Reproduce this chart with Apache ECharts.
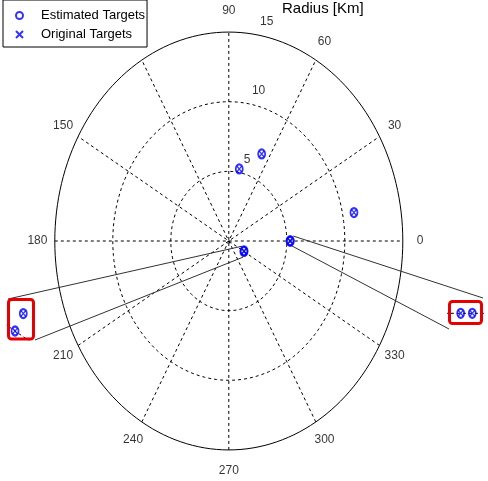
<!DOCTYPE html>
<html>
<head>
<meta charset="utf-8">
<script src="https://cdn.jsdelivr.net/npm/echarts@6/dist/echarts.min.js"></script>
<style>
  html, body { margin: 0; padding: 0; background: #fff; }
  #main { width: 488px; height: 481px; }
</style>
</head>
<body>
<div id="main"></div>
<script>
// targets in polar form: radius [km], angle [deg]
var estRadius = [5.25, 6.86, 10.98, 5.27, 5.31, 1.50, 1.5003];
var estAngle = [80.1, 65.6, 10.7, 0, 0, 330, 331.54];
var orgRadius = [5.25, 6.86, 10.98, 5.27, 5.31, 1.50, 1.5003];
var orgAngle = [80.1, 65.6, 10.7, 0, 0, 330, 331.54];

// polar grid
var ringRadius = [5, 10, 15];
var spokeAngle = [0, 30, 60, 90, 120, 150];
var angleTicks = [0, 30, 60, 90, 120, 150, 180, 210, 240, 270, 300, 330];
var radiusTicks = [5, 10, 15];

// zoom windows of the two insets [xmin, xmax, ymin, ymax] in km
var leftZoom = [1.2797, 1.3472, -0.7681, -0.6837];
var rightZoom = [5.2262, 5.3469, -0.0336, 0.0382];

var rMax = 15;
var blue = '#0000ff';
var numFont = "'Liberation Sans Narrow', 'Arial Narrow', sans-serif";
var textFont = "'Liberation Sans', Arial, sans-serif";

function toXY(r, deg) {
  var a = deg * Math.PI / 180;
  return [r * Math.cos(a), r * Math.sin(a)];
}

function points(rs, as) {
  var out = [];
  for (var i = 0; i < rs.length; i++) out.push(toXY(rs[i], as[i]));
  return out;
}

var chart = echarts.init(document.getElementById('main'));
var series = [];

// rings
ringRadius.forEach(function (r) {
  var d = [];
  for (var a = 0; a <= 360; a += 2) d.push(toXY(r, a));
  series.push({
    type: 'line', xAxisIndex: 0, yAxisIndex: 0, data: d,
    showSymbol: false, silent: true, z: 1,
    lineStyle: { color: '#000', width: 1, type: r === rMax ? 'solid' : [3, 3] }
  });
});

// spokes, in the main plot and in both insets
[0, 1, 2].forEach(function (g) {
  spokeAngle.forEach(function (a) {
    series.push({
      type: 'line', xAxisIndex: g, yAxisIndex: g,
      data: [toXY(-rMax, a), toXY(rMax, a)],
      showSymbol: false, silent: true, z: 1,
      lineStyle: { color: '#000', width: 1, type: [3, 3] }
    });
  });
});

// targets
[0, 1, 2].forEach(function (g) {
  series.push({
    name: 'Estimated Targets', type: 'scatter', xAxisIndex: g, yAxisIndex: g,
    data: points(estRadius, estAngle), clip: true,
    symbol: 'circle', symbolSize: [7, 9], z: 5,
    itemStyle: { color: 'rgba(0,0,0,0)', borderColor: blue, borderWidth: 2 }
  });
  series.push({
    name: 'Original Targets', type: 'scatter', xAxisIndex: g, yAxisIndex: g,
    data: points(orgRadius, orgAngle), clip: true,
    symbol: 'path://M0,0L10,10M0,10L10,0', symbolSize: [5, 6], z: 6,
    itemStyle: { color: 'rgba(0,0,0,0)', borderColor: blue, borderWidth: 1.3 }
  });
});

// angle labels
series.push({
  type: 'scatter', xAxisIndex: 0, yAxisIndex: 0, silent: true, symbolSize: 1,
  itemStyle: { color: 'rgba(0,0,0,0)' },
  data: angleTicks.map(function (a) {
    return { name: String(a), value: toXY(rMax * 1.1, a) };
  }),
  label: {
    show: true, position: 'inside', formatter: '{b}',
    fontFamily: numFont, fontSize: 12, color: '#000'
  }
});

// radius labels
series.push({
  type: 'scatter', xAxisIndex: 0, yAxisIndex: 0, silent: true, symbolSize: 1,
  itemStyle: { color: 'rgba(0,0,0,0)' },
  data: radiusTicks.map(function (r) {
    return { name: String(r), value: toXY(r, 82) };
  }),
  label: {
    show: true, position: 'inside', formatter: '{b}', align: 'left',
    offset: [7, -12], fontFamily: numFont, fontSize: 12, color: '#000'
  }
});

var option = {
  animation: false,
  backgroundColor: '#fff',
  title: {
    text: 'Radius [Km]', left: 282, top: 1, padding: 0,
    textStyle: { fontFamily: textFont, fontSize: 15, fontWeight: 'normal', color: '#000' }
  },
  legend: {
    data: ['Estimated Targets', 'Original Targets'],
    orient: 'vertical', left: 3, top: 0,
    padding: [9, 2, 6, 12], itemGap: 6,
    itemWidth: 7, itemHeight: 9,
    backgroundColor: '#fff', borderColor: '#000', borderWidth: 1,
    textStyle: { fontFamily: textFont, fontSize: 13, color: '#000', padding: [0, 0, 0, 13] }
  },
  grid: [
    { left: 8.4, top: 5.6, width: 440.8, height: 470.8 },
    { left: 7, top: 298, width: 28, height: 42 },
    { left: 448, top: 300, width: 35, height: 25 }
  ],
  xAxis: [
    { gridIndex: 0, type: 'value', min: -19, max: 19, show: false },
    { gridIndex: 1, type: 'value', min: leftZoom[0], max: leftZoom[1], show: false },
    { gridIndex: 2, type: 'value', min: rightZoom[0], max: rightZoom[1], show: false }
  ],
  yAxis: [
    { gridIndex: 0, type: 'value', min: -16.9, max: 16.9, show: false },
    { gridIndex: 1, type: 'value', min: leftZoom[2], max: leftZoom[3], show: false },
    { gridIndex: 2, type: 'value', min: rightZoom[2], max: rightZoom[3], show: false }
  ],
  series: series
};
chart.setOption(option);

// inset frames and the lines tying them to the clusters
var e1 = toXY(estRadius[5], estAngle[5]), e2 = toXY(estRadius[6], estAngle[6]);
var d1 = toXY(estRadius[3], estAngle[3]), d2 = toXY(estRadius[4], estAngle[4]);
var pL = chart.convertToPixel({ gridIndex: 0 }, [(e1[0] + e2[0]) / 2, (e1[1] + e2[1]) / 2]);
var pR = chart.convertToPixel({ gridIndex: 0 }, [(d1[0] + d2[0]) / 2, (d1[1] + d2[1]) / 2]);
var lineStyle = { stroke: '#333', lineWidth: 1 };
chart.setOption({
  graphic: [
    { type: 'line', z: 3, shape: { x1: pL[0] - 2, y1: pL[1] - 5, x2: 8, y2: 299 }, style: lineStyle },
    { type: 'line', z: 3, shape: { x1: pL[0] - 1, y1: pL[1] + 6, x2: 35, y2: 340 }, style: lineStyle },
    { type: 'line', z: 3, shape: { x1: pR[0] + 3, y1: pR[1] - 5, x2: 483, y2: 298 }, style: lineStyle },
    { type: 'line', z: 3, shape: { x1: pR[0], y1: pR[1] + 4, x2: 449, y2: 329 }, style: lineStyle },
    { type: 'rect', z: 10, shape: { x: 8.5, y: 299.5, width: 25, height: 39.5, r: 3 },
      style: { fill: null, stroke: '#e60000', lineWidth: 3 } },
    { type: 'rect', z: 10, shape: { x: 449.5, y: 301.5, width: 32, height: 22, r: 3 },
      style: { fill: null, stroke: '#e60000', lineWidth: 3 } }
  ]
});
</script>
</body>
</html>
